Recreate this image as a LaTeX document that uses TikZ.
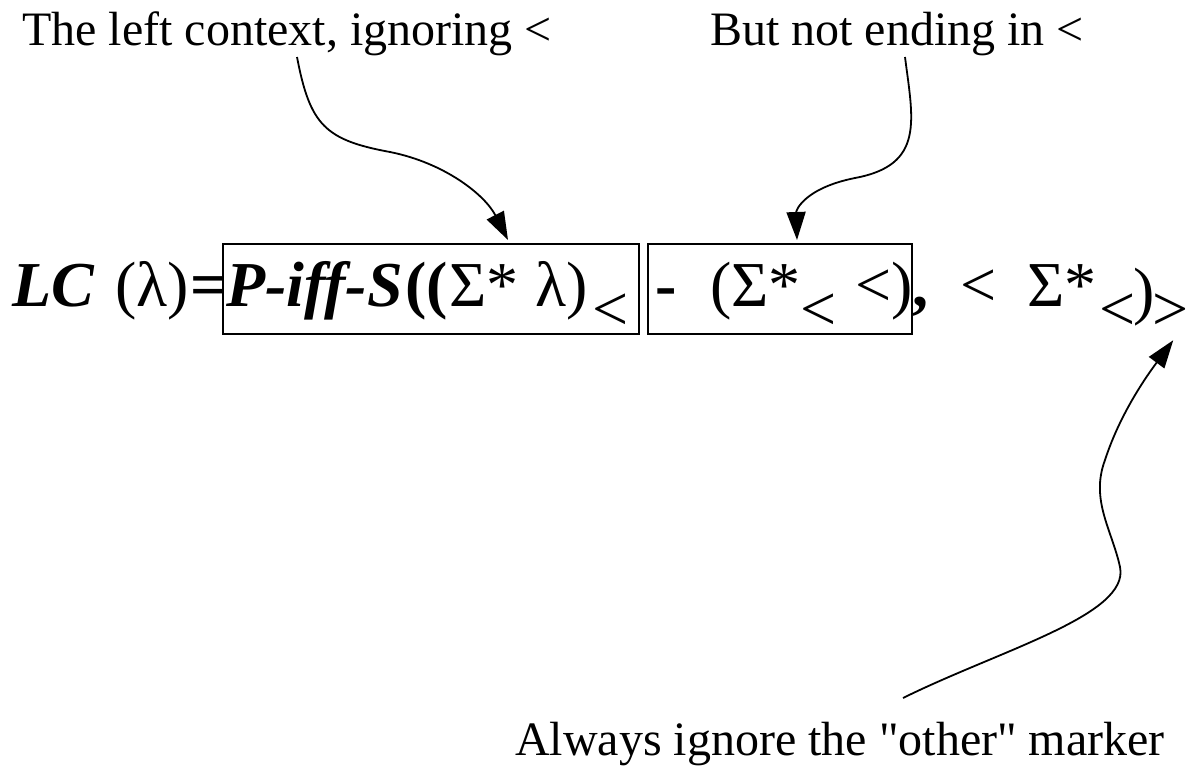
\documentclass[tikz,border=0pt]{standalone}
\usepackage{fontspec}
\setmainfont{Liberation Serif}[Ligatures=TeXOff]
\usetikzlibrary{arrows.meta,calc}
\begin{document}
\begin{tikzpicture}[x=1pt,y=-1pt,
  lbl/.style={font=\fontsize{48}{56}\selectfont, inner sep=0pt, anchor=base west},
  fm/.style={font=\fontsize{64}{72}\selectfont, inner sep=0pt, anchor=base west},
  fb/.style={font=\fontsize{64}{72}\selectfont\bfseries, inner sep=0pt, anchor=base west},
  fbi/.style={font=\fontsize{64}{72}\selectfont\bfseries\itshape, inner sep=0pt, anchor=base west},
  termbox/.style={draw, line width=2pt, inner sep=0pt, anchor=north west},
  arr/.style={line width=1.8pt, -{Triangle[length=28pt,width=19pt]}}
]
\useasboundingbox (0,0) rectangle (1186,766);
% labels
\node[lbl] (l1) at (22,45) {The left context, ignoring <};
\node[lbl] (l2) at (710,45) {But not ending in <};
\node[lbl] (l3) at (515,755) {Always ignore the "other" marker};
% boxes
\node[termbox, minimum width=416pt, minimum height=90pt] (b1) at (222,243) {};
\node[termbox, minimum width=264pt, minimum height=90pt] (b2) at (647,243) {};
% formula
\node[fbi] (lc) at (12,306) {LC};
\node[fm] (lam) at (115,306) {(λ)};
\node[fb] (eq) at (190,306) {=};
\node[fbi] (piffs) at (226,306) {P-iff-S};
\node[fb] (pp) at (405,306) {((};
\node[fm] (sig1) at (449,306) {Σ*};
\node[fm] (lam2) at (535,306) {λ)};
\node[fm] (s1) at (592,330) {<};
\node[fb] (mn) at (655,306) {-};
\node[fm] (sig2) at (710,306) {(Σ*};
\node[fm] (s2) at (800,330) {<};
\node[fm] (lt2) at (855,306) {<)};
\node[fb] (cm) at (912,306) {,};
\node[fm] (lt3) at (960,306) {<};
\node[fm] (sig3) at (1027,306) {Σ*};
\node[fm] (s3) at (1099,330) {<};
\node[fm] (rp) at (1133,312) {)};
\node[fm] (s4) at (1152,330) {>};
% arrows
\draw[arr] ($(l1.base west)+(275,12)$) .. controls (310,125) and (325,140) .. (390,152)
  .. controls (445,163) and (485,195) .. ($(b1.north west)+(286,-3)$);
\draw[arr] ($(l2.base west)+(195,12)$) .. controls (913,120) and (925,165) .. (855,178)
  .. controls (805,188) and (796,210) .. ($(b2.north west)+(150,-3)$);
\draw[arr] ($(l3.base west)+(388,-57)$) .. controls (1000,650) and (1130,615) .. (1120,567)
  .. controls (1112,530) and (1090,500) .. (1105,460)
  .. controls (1118,420) and (1140,385) .. ($(s4.south)+(3,10)$);
\end{tikzpicture}
\end{document}
